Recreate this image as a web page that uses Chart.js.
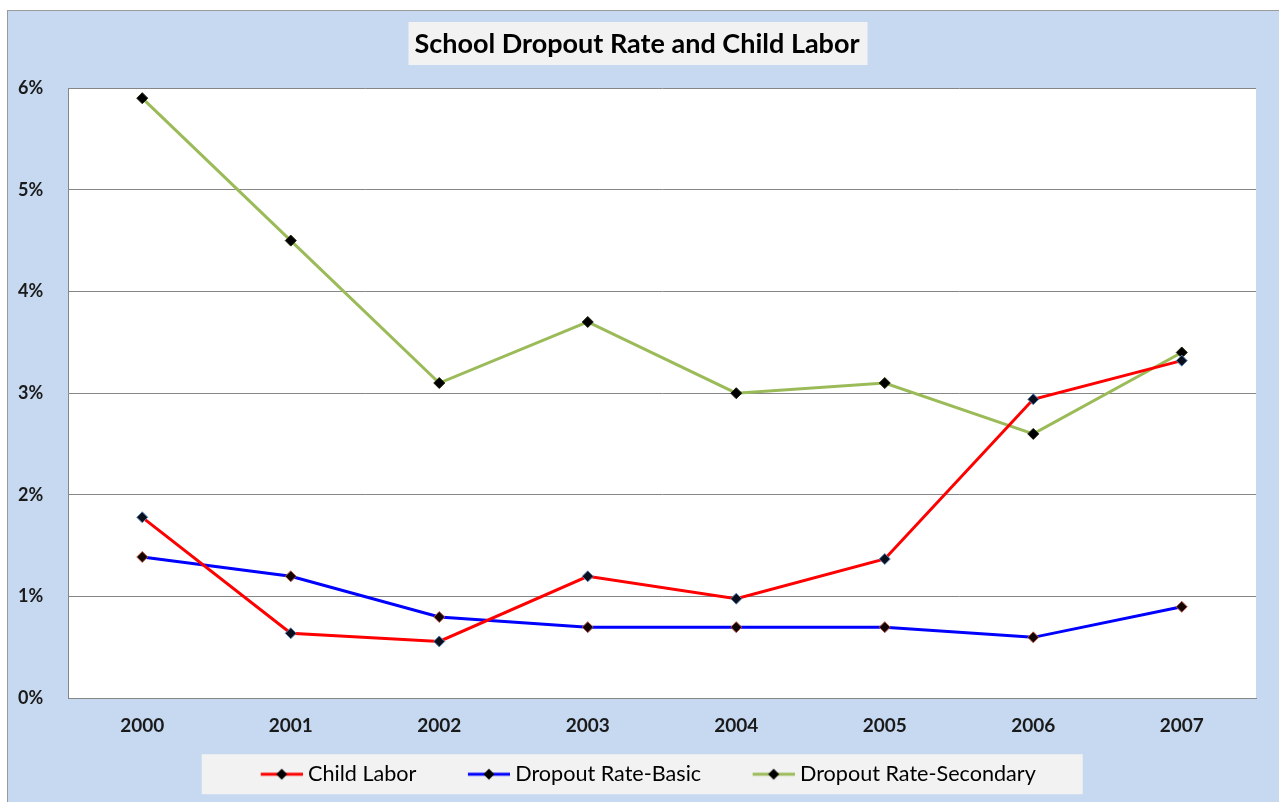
<!DOCTYPE html>
<html>
<head>
<meta charset="utf-8">
<script src="https://cdn.jsdelivr.net/npm/chart.js"></script>
<style>
  html, body { margin: 0; padding: 0; background: #fff; }
  #frame {
    position: absolute; left: 7px; top: 10px; width: 1271px; height: 791px;
    background: #c6d9f0; border-left: 1px solid #9a9a9a; border-top: 1px solid #9a9a9a;
  }
  #chart { display: block; }
</style>
</head>
<body>
<div id="frame"><canvas id="chart" width="1271" height="791"></canvas></div>
<script>
var years = ["2000", "2001", "2002", "2003", "2004", "2005", "2006", "2007"]
var childLabor = [1.78, 0.64, 0.56, 1.2, 0.98, 1.37, 2.94, 3.32]
var dropoutBasic = [1.39, 1.2, 0.8, 0.7, 0.7, 0.7, 0.6, 0.9]
var dropoutSecondary = [5.9, 4.5, 3.1, 3.7, 3.0, 3.1, 2.6, 3.4]
var titleText = "School Dropout Rate and Child Labor"
var fontName = "Lato"
var titleSize = 27

var sampleBox = 78   // legend box width given to chart.js
var sampleW = 89     // picture width; the visible line sits at its right end
var legendShift = -9.5

// line + diamond picture for the legend, transparent on the left
function legendSample(color) {
    var c = document.createElement("canvas")
    c.width = sampleW
    c.height = 14
    var ctx = c.getContext("2d")
    var x0 = sampleW - 42
    ctx.strokeStyle = color
    ctx.lineWidth = 3
    ctx.beginPath()
    ctx.moveTo(x0, 7)
    ctx.lineTo(sampleW, 7)
    ctx.stroke()
    var mx = x0 + 21
    ctx.fillStyle = "#000"
    ctx.beginPath()
    ctx.moveTo(mx, 1.5)
    ctx.lineTo(mx + 5.5, 7)
    ctx.lineTo(mx, 12.5)
    ctx.lineTo(mx - 5.5, 7)
    ctx.closePath()
    ctx.fill()
    return c
}

var boxesPlugin = {
    id: "boxes",
    afterLayout: function (chart) {
        // excel puts the legend a bit left of centre
        chart.legend.left += legendShift
        chart.legend.right += legendShift
    },
    beforeDraw: function (chart) {
        var ctx = chart.ctx
        var a = chart.chartArea
        ctx.save()
        ctx.fillStyle = "#ffffff"
        ctx.fillRect(a.left, a.top, a.right - a.left, a.bottom - a.top)

        // grey box behind the title
        var t = chart.titleBlock
        ctx.font = "bold " + titleSize + "px " + fontName
        var w = ctx.measureText(titleText).width
        var cx = (t.left + t.right) / 2
        ctx.fillStyle = "#f2f2f2"
        ctx.fillRect(cx - w / 2 - 6, 11, w + 14, 43)

        // grey box behind the legend
        var hb = chart.legend.legendHitBoxes
        if (hb.length) {
            var left = hb[0].left + sampleBox - 36.5 - 59
            var right = hb[hb.length - 1].left + hb[hb.length - 1].width + 47
            var cy = hb[0].top + hb[0].height / 2
            ctx.fillRect(left, cy - 20, right - left, 40)
        }
        ctx.restore()
    }
}

function makeChart() {
    new Chart("chart", {
        type: "line",
        data: {
            labels: years,
            datasets: [{
                label: "Child Labor",
                data: childLabor,
                borderColor: "#ff0000",
                backgroundColor: "#0a0f1e",
                pointBorderColor: "#5b86b8",
                legendImg: legendSample("#ff0000")
            }, {
                label: "Dropout Rate-Basic",
                data: dropoutBasic,
                borderColor: "#0000ff",
                backgroundColor: "#140505",
                pointBorderColor: "#b85a4a",
                legendImg: legendSample("#0000ff")
            }, {
                label: "Dropout Rate-Secondary",
                data: dropoutSecondary,
                borderColor: "#9bbb59",
                backgroundColor: "#000000",
                pointBorderColor: "#1a2008",
                legendImg: legendSample("#9bbb59")
            }]
        },
        options: {
            responsive: false,
            animation: false,
            layout: { padding: { left: 10, right: 23, top: 0, bottom: 7 } },
            elements: {
                line: { borderWidth: 3, tension: 0 },
                point: { pointStyle: "rectRot", radius: 5.5, borderWidth: 1 }
            },
            scales: {
                x: {
                    offset: true,
                    grid: { display: false, drawTicks: false },
                    border: { color: "#868686", width: 1 },
                    ticks: { padding: 15.6, color: "#1a1a1a", font: { family: fontName, size: 19, weight: "bold" } },
                    afterFit: function (s) { s.height = 55 }
                },
                y: {
                    min: 0,
                    max: 6,
                    grid: { color: "#868686", drawTicks: false },
                    border: { color: "#868686", width: 1 },
                    ticks: {
                        stepSize: 1,
                        crossAlign: "far",
                        color: "#1a1a1a",
                        font: { family: fontName, size: 18, weight: "bold" },
                        callback: function (v) { return v + "%" }
                    },
                    afterFit: function (s) { s.width = 50 }
                }
            },
            plugins: {
                tooltip: { enabled: false },
                title: {
                    display: true,
                    text: titleText,
                    color: "#000",
                    font: { family: fontName, size: titleSize, weight: "bold" },
                    padding: { top: 17.3, bottom: 27.3 }
                },
                legend: {
                    position: "bottom",
                    labels: {
                        usePointStyle: true,
                        pointStyleWidth: sampleBox,
                        padding: 10,
                        color: "#000",
                        font: { family: fontName, size: 21.6 },
                        generateLabels: function (chart) {
                            return chart.data.datasets.map(function (d, i) {
                                return {
                                    text: d.label,
                                    pointStyle: d.legendImg,
                                    fillStyle: d.borderColor,
                                    strokeStyle: d.borderColor,
                                    lineWidth: 0,
                                    datasetIndex: i,
                                    fontColor: "#000"
                                }
                            })
                        }
                    }
                }
            }
        },
        plugins: [boxesPlugin]
    })
}

makeChart()
</script>
</body>
</html>
